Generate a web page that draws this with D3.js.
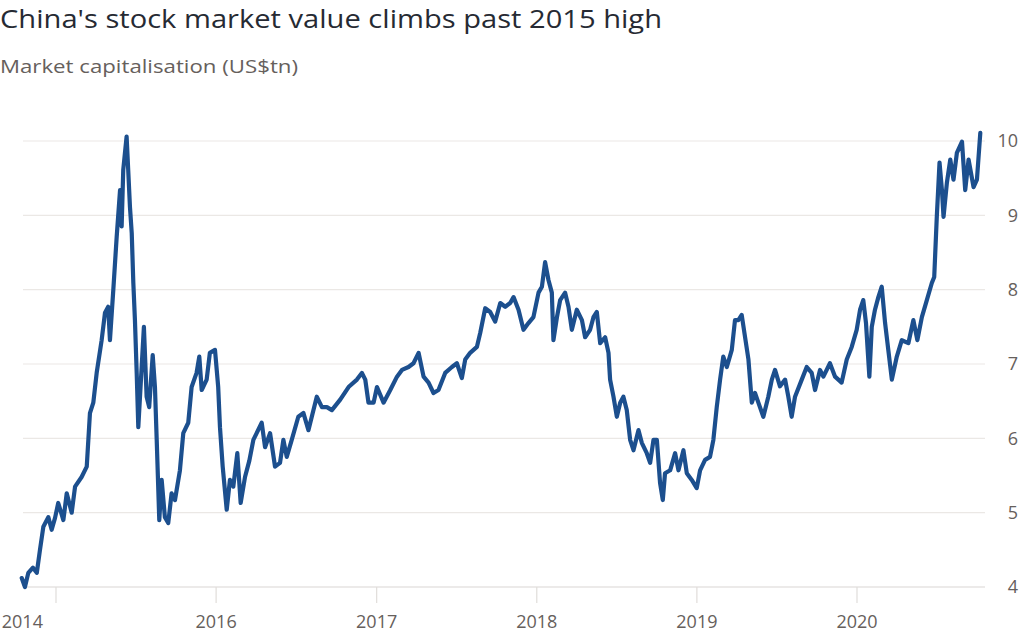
<!DOCTYPE html>
<html>
<head>
<meta charset="utf-8">
<script src="https://cdn.jsdelivr.net/npm/d3@7"></script>
<style>
  html, body { margin: 0; padding: 0; background: #ffffff; }
  svg { display: block; }
  text { font-family: "Open Sans", "Noto Sans", sans-serif; }
</style>
</head>
<body>
<svg id="chart" width="1024" height="638"></svg>
<script>
// ---- Data ----
const titleText = "China's stock market value climbs past 2015 high";
const subtitleText = "Market capitalisation (US$tn)";

// Dates as fractional years
const dates = [
  2014.786, 2014.806, 2014.827, 2014.856, 2014.880, 2014.900, 2014.921, 2014.952, 2014.973, 2014.994,
  2015.014, 2015.046, 2015.067, 2015.098, 2015.119, 2015.160, 2015.192, 2015.212, 2015.233, 2015.254,
  2015.285, 2015.306, 2015.326, 2015.337, 2015.358, 2015.379, 2015.400, 2015.410, 2015.420, 2015.441,
  2015.451, 2015.462, 2015.473, 2015.483, 2015.493, 2015.504, 2015.514, 2015.535, 2015.549, 2015.566,
  2015.582, 2015.604, 2015.618, 2015.629, 2015.645, 2015.660, 2015.680, 2015.701, 2015.722, 2015.743,
  2015.774, 2015.795, 2015.826, 2015.847, 2015.878, 2015.895, 2015.910, 2015.941, 2015.961, 2015.993,
  2016.013, 2016.024, 2016.041, 2016.066, 2016.086, 2016.107, 2016.132, 2016.153, 2016.180, 2016.207,
  2016.232, 2016.284, 2016.305, 2016.336, 2016.367, 2016.398, 2016.419, 2016.440, 2016.471, 2016.512,
  2016.544, 2016.575, 2016.627, 2016.659, 2016.690, 2016.721, 2016.773, 2016.825, 2016.877, 2016.908,
  2016.929, 2016.949, 2016.981, 2017.002, 2017.043, 2017.085, 2017.127, 2017.158, 2017.199, 2017.230,
  2017.262, 2017.293, 2017.324, 2017.355, 2017.386, 2017.428, 2017.470, 2017.501, 2017.532, 2017.553,
  2017.584, 2017.626, 2017.647, 2017.678, 2017.709, 2017.740, 2017.772, 2017.803, 2017.834, 2017.855,
  2017.886, 2017.917, 2017.948, 2017.979, 2018.011, 2018.032, 2018.052, 2018.073, 2018.094, 2018.104,
  2018.126, 2018.146, 2018.177, 2018.198, 2018.219, 2018.250, 2018.282, 2018.302, 2018.333, 2018.354,
  2018.375, 2018.396, 2018.427, 2018.448, 2018.458, 2018.479, 2018.500, 2018.521, 2018.541, 2018.562,
  2018.583, 2018.604, 2018.635, 2018.656, 2018.687, 2018.708, 2018.729, 2018.750, 2018.770, 2018.787,
  2018.801, 2018.833, 2018.864, 2018.885, 2018.916, 2018.937, 2018.968, 2018.999, 2019.020, 2019.051,
  2019.082, 2019.103, 2019.124, 2019.145, 2019.165, 2019.187, 2019.218, 2019.238, 2019.259, 2019.280,
  2019.301, 2019.322, 2019.343, 2019.363, 2019.384, 2019.415, 2019.446, 2019.468, 2019.488, 2019.519,
  2019.551, 2019.571, 2019.592, 2019.613, 2019.655, 2019.686, 2019.717, 2019.738, 2019.769, 2019.790,
  2019.831, 2019.863, 2019.904, 2019.936, 2019.967, 2019.998, 2020.019, 2020.039, 2020.056, 2020.077,
  2020.092, 2020.112, 2020.133, 2020.154, 2020.175, 2020.195, 2020.217, 2020.248, 2020.279, 2020.320,
  2020.351, 2020.376, 2020.404, 2020.435, 2020.466, 2020.481, 2020.497, 2020.514, 2020.529, 2020.539,
  2020.560, 2020.581, 2020.601, 2020.622, 2020.654, 2020.674, 2020.695, 2020.726, 2020.747, 2020.768
];

// Market capitalisation, US$tn
const values = [
  4.12, 4.00, 4.19, 4.26, 4.19, 4.50, 4.81, 4.94, 4.77, 4.93,
  5.13, 4.90, 5.26, 5.00, 5.35, 5.48, 5.62, 6.34, 6.48, 6.88,
  7.32, 7.69, 7.77, 7.32, 8.00, 8.71, 9.34, 8.85, 9.61, 10.06,
  9.61, 9.11, 8.76, 8.09, 7.59, 6.88, 6.15, 6.96, 7.50, 6.56,
  6.42, 7.12, 6.69, 5.98, 4.90, 5.44, 4.94, 4.86, 5.26, 5.17,
  5.57, 6.07, 6.21, 6.69, 6.88, 7.10, 6.65, 6.79, 7.15, 7.19,
  6.69, 6.15, 5.62, 5.04, 5.44, 5.35, 5.80, 5.13, 5.48, 5.70,
  5.98, 6.21, 5.88, 6.07, 5.62, 5.67, 5.98, 5.75, 5.98, 6.29,
  6.34, 6.11, 6.56, 6.42, 6.42, 6.38, 6.52, 6.69, 6.79, 6.88,
  6.79, 6.48, 6.48, 6.69, 6.48, 6.65, 6.83, 6.92, 6.96, 7.01,
  7.15, 6.83, 6.75, 6.61, 6.65, 6.88, 6.96, 7.01, 6.81, 7.06,
  7.15, 7.23, 7.42, 7.75, 7.70, 7.57, 7.82, 7.77, 7.82, 7.90,
  7.73, 7.46, 7.55, 7.63, 7.96, 8.04, 8.37, 8.13, 7.96, 7.32,
  7.63, 7.86, 7.96, 7.77, 7.46, 7.73, 7.59, 7.36, 7.46, 7.63,
  7.70, 7.28, 7.36, 7.15, 6.79, 6.56, 6.29, 6.48, 6.56, 6.38,
  5.98, 5.84, 6.11, 5.94, 5.80, 5.67, 5.98, 5.98, 5.40, 5.17,
  5.53, 5.57, 5.80, 5.57, 5.84, 5.53, 5.44, 5.33, 5.57, 5.71,
  5.75, 5.98, 6.42, 6.79, 7.10, 6.96, 7.19, 7.59, 7.59, 7.66,
  7.36, 7.06, 6.48, 6.61, 6.48, 6.29, 6.56, 6.79, 6.92, 6.70,
  6.79, 6.56, 6.29, 6.56, 6.79, 6.96, 6.88, 6.65, 6.92, 6.83,
  7.01, 6.83, 6.75, 7.06, 7.23, 7.46, 7.73, 7.86, 7.55, 6.83,
  7.50, 7.73, 7.90, 8.04, 7.55, 7.19, 6.79, 7.10, 7.32, 7.28,
  7.59, 7.32, 7.63, 7.86, 8.09, 8.17, 8.98, 9.71, 9.34, 8.98,
  9.44, 9.75, 9.48, 9.84, 9.99, 9.34, 9.75, 9.38, 9.48, 10.11
];

const yTicks = [4, 5, 6, 7, 8, 9, 10];
const xTickYears = [2015, 2016, 2017, 2018, 2019, 2020];
const xLabelYears = [2014.79, 2016, 2017, 2018, 2019, 2020];
const xLabels = ["2014", "2016", "2017", "2018", "2019", "2020"];

// ---- Helpers ----
function toDate(fy) {
  const y = Math.floor(fy);
  const start = new Date(y, 0, 1), end = new Date(y + 1, 0, 1);
  return new Date(start.getTime() + (fy - y) * (end - start));
}

const data = dates.map((d, i) => ({ date: toDate(d), value: values[i] }));

// ---- Layout ----
const svg = d3.select("#chart");
const gridLeft = 23, gridRight = 985;

const x = d3.scaleTime()
  .domain([new Date(2015, 0, 1), new Date(2020, 0, 1)])
  .range([56, 857]);
const y = d3.scaleLinear().domain([4, 10]).range([587, 141]);

// Title and subtitle
svg.append("text")
  .attr("x", 0).attr("y", 28)
  .attr("font-size", 26)
  .attr("fill", "#262a33")
  .attr("textLength", 662).attr("lengthAdjust", "spacingAndGlyphs")
  .text(titleText);

svg.append("text")
  .attr("x", 0).attr("y", 73)
  .attr("font-size", 19)
  .attr("fill", "#66605c")
  .attr("textLength", 298).attr("lengthAdjust", "spacingAndGlyphs")
  .text(subtitleText);

// Gridlines
svg.append("g").selectAll("line")
  .data(yTicks)
  .join("line")
  .attr("x1", gridLeft).attr("x2", gridRight)
  .attr("y1", d => y(d)).attr("y2", d => y(d))
  .attr("stroke", d => d === 4 ? "#d9d6d3" : "#ebe8e5")
  .attr("stroke-width", 1.2);

// Y labels (right)
svg.append("g").selectAll("text")
  .data(yTicks)
  .join("text")
  .attr("x", 1018).attr("y", d => y(d))
  .attr("dy", "0.35em")
  .attr("text-anchor", "end")
  .attr("font-size", 18)
  .attr("fill", "#66605c")
  .text(d => d);

// X ticks
svg.append("g").selectAll("line")
  .data(xTickYears)
  .join("line")
  .attr("x1", d => x(toDate(d))).attr("x2", d => x(toDate(d)))
  .attr("y1", 587).attr("y2", 603)
  .attr("stroke", "#e0ddda")
  .attr("stroke-width", 1.2);

// X labels
svg.append("g").selectAll("text")
  .data(xLabels)
  .join("text")
  .attr("x", (d, i) => x(toDate(xLabelYears[i])))
  .attr("y", 628)
  .attr("text-anchor", "middle")
  .attr("font-size", 18)
  .attr("fill", "#66605c")
  .text(d => d);

// Line
const line = d3.line()
  .x(d => x(d.date))
  .y(d => y(d.value));

svg.append("path")
  .datum(data)
  .attr("d", line)
  .attr("fill", "none")
  .attr("stroke", "#1c4f8e")
  .attr("stroke-width", 4.2)
  .attr("stroke-linejoin", "round")
  .attr("stroke-linecap", "round");
</script>
</body>
</html>
